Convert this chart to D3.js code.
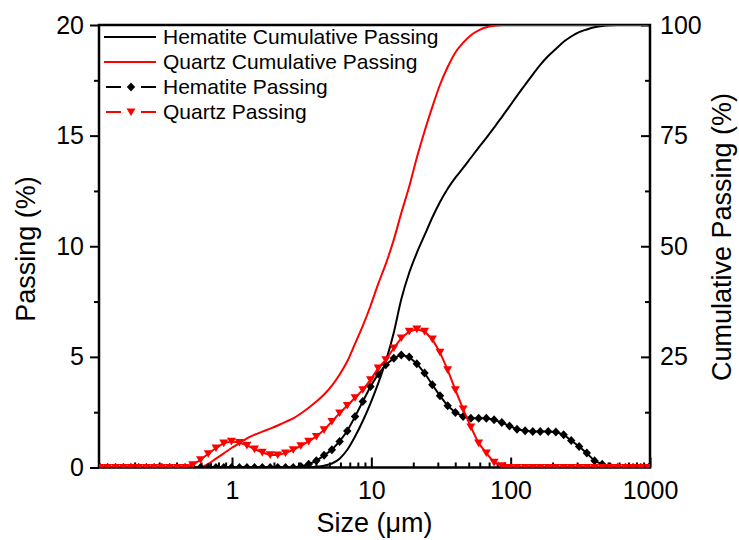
<!DOCTYPE html>
<html>
<head>
<meta charset="utf-8">
<script src="https://cdnjs.cloudflare.com/ajax/libs/d3/7.8.5/d3.min.js"></script>
<style>
  body { margin: 0; background: #fff; }
  text { font-family: "Liberation Sans", Arial, sans-serif; fill: #000; }
</style>
</head>
<body>
<svg width="739" height="540"></svg>
<script>
// size classes (um), laser diffraction bins
var sizes = [0.113, 0.128, 0.146, 0.166, 0.188, 0.214, 0.243, 0.276, 0.314, 0.357,
  0.405, 0.460, 0.523, 0.594, 0.675, 0.767, 0.872, 0.991, 1.13, 1.28,
  1.45, 1.65, 1.88, 2.13, 2.42, 2.75, 3.12, 3.55, 4.03, 4.58,
  5.21, 5.92, 6.72, 7.64, 8.68, 9.86, 11.2, 12.7, 14.5, 16.4,
  18.7, 21.2, 24.1, 27.4, 31.1, 35.3, 40.1, 45.6, 51.8, 58.9,
  66.9, 76.0, 86.4, 98.1, 111, 127, 144, 163, 186, 211,
  240, 272, 310, 352, 400, 454, 516, 586, 666, 756,
  859, 976];

var hematitePassing = [0, 0, 0, 0, 0, 0, 0, 0, 0, 0,
  0, 0, 0, 0, 0, 0, 0, 0, 0, 0,
  0, 0, 0, 0, 0, 0, 0.05, 0.15, 0.3, 0.55,
  0.8, 1.18, 1.65, 2.3, 2.98, 3.66, 4.23, 4.64, 4.94, 5.09,
  4.99, 4.69, 4.27, 3.74, 3.24, 2.79, 2.49, 2.3, 2.23, 2.23,
  2.23, 2.16, 2.03, 1.88, 1.73, 1.66, 1.63, 1.63, 1.63, 1.6,
  1.48, 1.22, 0.95, 0.65, 0.3, 0.15, 0.05, 0, 0, 0,
  0, 0];

var quartzPassing = [0, 0, 0, 0, 0, 0, 0, 0, 0, 0,
  0, 0, 0.12, 0.35, 0.62, 0.88, 1.10, 1.18, 1.13, 1.00,
  0.83, 0.68, 0.57, 0.56, 0.65, 0.80, 0.98, 1.18, 1.40, 1.70,
  2.08, 2.46, 2.80, 3.15, 3.51, 3.96, 4.49, 4.87, 5.40, 5.85,
  6.15, 6.25, 6.15, 5.80, 5.20, 4.41, 3.51, 2.64, 1.83, 1.10,
  0.65, 0.23, 0.08, 0, 0, 0, 0, 0, 0, 0,
  0, 0, 0, 0, 0, 0, 0, 0, 0, 0,
  0, 0];

var hematiteCum = [0, 0, 0, 0, 0, 0, 0, 0, 0, 0,
  0, 0, 0, 0, 0, 0, 0, 0, 0, 0,
  0, 0, 0, 0, 0, 0, 0, 0.05, 0.15, 0.4,
  0.9, 2.0, 4.0, 7.0, 10.5, 14.5, 19, 24, 30.5, 38,
  44, 48.5, 52.5, 56.5, 60, 63, 65.5, 67.7, 70, 72.3,
  74.5, 76.8, 79.2, 81.6, 84, 86.5, 88.8, 91, 93, 94.6,
  96.2, 97.4, 98.4, 99.0, 99.5, 99.8, 99.95, 100, 100, 100,
  100, 100];

var quartzCum = [0, 0, 0, 0, 0, 0, 0, 0, 0, 0,
  0, 0, 0, 0.05, 0.8, 2.0, 3.2, 4.4, 5.5, 6.6,
  7.4, 8.1, 8.8, 9.5, 10.3, 11.1, 12.2, 13.5, 14.9, 16.5,
  18.5, 21, 24, 28, 32, 36.5, 41.5, 46, 51.5, 57.5,
  63.5, 70, 76, 81.5, 86.5, 90.5, 93.8, 96, 97.7, 98.8,
  99.5, 99.8, 100, 100, 100, 100, 100, 100, 100, 100,
  100, 100, 100, 100, 100, 100, 100, 100, 100, 100,
  100, 100];

var sizeTicks = [1, 10, 100, 1000];
var sizeMinor = [0.2, 0.3, 0.4, 0.5, 0.6, 0.7, 0.8, 0.9, 2, 3, 4, 5, 6, 7, 8, 9,
  20, 30, 40, 50, 60, 70, 80, 90, 200, 300, 400, 500, 600, 700, 800, 900];
var passTicks = [0, 5, 10, 15, 20];
var passMinor = [2.5, 7.5, 12.5, 17.5];
var cumTicks = [25, 50, 75, 100];
var cumMinor = [12.5, 37.5, 62.5, 87.5];

var seriesNames = ["Hematite Cumulative Passing", "Quartz Cumulative Passing",
  "Hematite Passing", "Quartz Passing"];

var svg = d3.select("svg");
var plotL = 99, plotR = 650, plotT = 25, plotB = 467.5;

var x = d3.scaleLog().domain([0.111, 1000]).range([plotL, plotR]);
var y = d3.scaleLinear().domain([0, 20]).range([plotB, plotT]);
var yc = d3.scaleLinear().domain([0, 100]).range([plotB, plotT]);

function styleAxis(g, size) {
  g.select(".domain").remove();
  g.selectAll("line").attr("stroke", "#000").attr("stroke-width", 2);
  g.selectAll("text").style("font-size", size + "px").attr("fill", "#000");
}

// left axis (ticks outward)
svg.append("g").attr("transform", "translate(" + plotL + ",0)")
  .call(d3.axisLeft(y).tickValues(passTicks).tickSize(9).tickPadding(6))
  .call(styleAxis, 25);
svg.append("g").attr("transform", "translate(" + plotL + ",0)")
  .call(d3.axisLeft(y).tickValues(passMinor).tickSize(5).tickFormat(""))
  .call(styleAxis, 25);

// right axis (ticks inward)
svg.append("g").attr("transform", "translate(" + plotR + ",0)")
  .call(d3.axisRight(yc).tickValues(cumTicks).tickSizeInner(-9).tickSizeOuter(0).tickPadding(10))
  .call(styleAxis, 25);
svg.append("g").attr("transform", "translate(" + plotR + ",0)")
  .call(d3.axisRight(yc).tickValues(cumMinor).tickSizeInner(-5).tickSizeOuter(0).tickFormat(""))
  .call(styleAxis, 25);

// bottom axis (ticks inward)
svg.append("g").attr("transform", "translate(0," + plotB + ")")
  .call(d3.axisBottom(x).tickValues(sizeTicks).tickSizeInner(-10).tickSizeOuter(0)
    .tickPadding(14).tickFormat(d3.format("d")))
  .call(styleAxis, 25);
svg.append("g").attr("transform", "translate(0," + plotB + ")")
  .call(d3.axisBottom(x).tickValues(sizeMinor).tickSizeInner(-5).tickSizeOuter(0).tickFormat(""))
  .call(styleAxis, 25);

// frame
svg.append("rect")
  .attr("x", plotL).attr("y", plotT)
  .attr("width", plotR - plotL).attr("height", plotB - plotT)
  .attr("fill", "none").attr("stroke", "#000").attr("stroke-width", 2.5);

// axis titles
svg.append("text")
  .attr("x", (plotL + plotR) / 2).attr("y", 532)
  .attr("text-anchor", "middle").style("font-size", "27px")
  .text("Size (\u03bcm)");
svg.append("text")
  .attr("transform", "translate(35,249) rotate(-90)")
  .attr("text-anchor", "middle").style("font-size", "27px")
  .text("Passing (%)");
svg.append("text")
  .attr("transform", "translate(731,237) rotate(-90)")
  .attr("text-anchor", "middle").style("font-size", "27px")
  .text("Cumulative Passing (%)");

// data
svg.append("clipPath").attr("id", "plot")
  .append("rect").attr("x", plotL).attr("y", plotT)
  .attr("width", plotR - plotL).attr("height", plotB - plotT);

var plot = svg.append("g").attr("clip-path", "url(#plot)");

function rows(vals) {
  return sizes.map(function(s, i) { return [s, vals[i]]; });
}

var cumLine = d3.line()
  .x(function(d) { return x(d[0]); })
  .y(function(d) { return yc(d[1]); })
  .curve(d3.curveMonotoneX);

var passLine = d3.line()
  .x(function(d) { return x(d[0]); })
  .y(function(d) { return y(d[1]); });

var diamond = "M0,-4.5L4.2,0L0,4.5L-4.2,0Z";
var triangle = "M-4.5,-3.6L4.5,-3.6L0,4Z";

plot.append("path").datum(rows(hematiteCum))
  .attr("d", cumLine).attr("fill", "none").attr("stroke", "#000").attr("stroke-width", 2);
plot.append("path").datum(rows(quartzCum))
  .attr("d", cumLine).attr("fill", "none").attr("stroke", "#ff0000").attr("stroke-width", 2);

plot.append("path").datum(rows(hematitePassing))
  .attr("d", passLine).attr("fill", "none").attr("stroke", "#000").attr("stroke-width", 2);
plot.selectAll(".hem").data(rows(hematitePassing)).enter().append("path")
  .attr("class", "hem")
  .attr("transform", function(d) { return "translate(" + x(d[0]) + "," + y(d[1]) + ")"; })
  .attr("d", diamond).attr("fill", "#000");

plot.append("path").datum(rows(quartzPassing))
  .attr("d", passLine).attr("fill", "none").attr("stroke", "#ff0000").attr("stroke-width", 2);
plot.selectAll(".qtz").data(rows(quartzPassing)).enter().append("path")
  .attr("class", "qtz")
  .attr("transform", function(d) { return "translate(" + x(d[0]) + "," + y(d[1]) + ")"; })
  .attr("d", triangle).attr("fill", "#ff0000");

// legend
var legendColors = ["#000", "#ff0000", "#000", "#ff0000"];
var legend = svg.append("g");
seriesNames.forEach(function(name, i) {
  var base = 44 + i * 25, ly = base - 7;
  var c = legendColors[i];
  if (i < 2) {
    legend.append("line").attr("x1", 104).attr("x2", 156).attr("y1", ly).attr("y2", ly)
      .attr("stroke", c).attr("stroke-width", 2);
  } else {
    legend.append("line").attr("x1", 106).attr("x2", 121).attr("y1", ly).attr("y2", ly)
      .attr("stroke", c).attr("stroke-width", 2);
    legend.append("line").attr("x1", 141).attr("x2", 156).attr("y1", ly).attr("y2", ly)
      .attr("stroke", c).attr("stroke-width", 2);
    legend.append("path").attr("transform", "translate(131," + ly + ")")
      .attr("d", i === 2 ? diamond : triangle).attr("fill", c);
  }
  legend.append("text").attr("x", 163).attr("y", base)
    .style("font-size", "21px").text(name);
});
</script>
</body>
</html>
